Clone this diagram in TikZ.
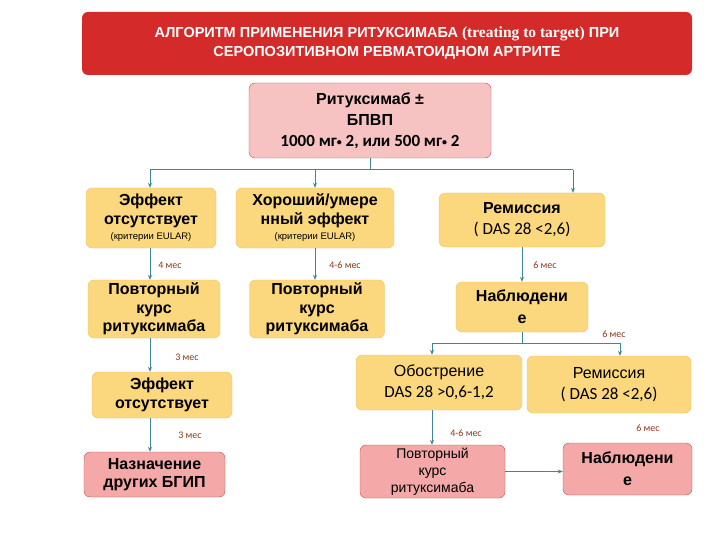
\documentclass[tikz,border=0pt]{standalone}
\usepackage{fontspec}
\setmainfont{Liberation Sans}
\newfontfamily\calfnt{Carlito}
\newfontfamily\serfnt{Liberation Serif}
\usetikzlibrary{arrows.meta}
\definecolor{yel}{HTML}{FBD77E}
\definecolor{yelb}{HTML}{E9C46A}
\definecolor{pnk}{HTML}{F4A8A8}
\definecolor{pnkb}{HTML}{C0504D}
\definecolor{ttl}{HTML}{D42A2A}
\definecolor{ln}{HTML}{3E8796}
\definecolor{lab}{HTML}{8B3A1A}
\begin{document}
\begin{tikzpicture}[x=1pt,y=-1pt,
 box/.style={rounded corners=6pt,draw=yelb,fill=yel,align=center,inner sep=1pt,font=\bfseries\fontsize{16}{18.5}\selectfont},
 rbox/.style={box,draw=pnkb,fill=pnk},
 con/.style={draw=ln,line width=1pt,-{Stealth[length=5pt,width=4pt]}},
 pl/.style={draw=ln,line width=1pt},
 lbl/.style={font=\calfnt\fontsize{10}{11}\selectfont,text=lab}]
\useasboundingbox (0,0) rectangle (720,540);
\fill[white] (0,0) rectangle (720,540);
\node[rounded corners=6pt,fill=ttl,minimum width=610pt,minimum height=63pt,align=center,text=white,font=\bfseries\fontsize{14.5}{19}\selectfont] (t) at (387,43.5) {АЛГОРИТМ ПРИМЕНЕНИЯ РИТУКСИМАБА {\serfnt\fontsize{15.5}{19}\selectfont (treating to target)} ПРИ\\СЕРОПОЗИТИВНОМ РЕВМАТОИДНОМ АРТРИТЕ};
\node[box,draw=pnkb,fill=pnk!70,minimum width=242pt,minimum height=75pt,font=\bfseries\fontsize{16}{21}\selectfont] (top) at (370,120.5) {Ритуксимаб ±\\БПВП\\{\calfnt\bfseries\fontsize{17}{21}\selectfont 1000 мг\raisebox{1pt}{\fontsize{10}{10}\selectfont•} 2, или 500 мг\raisebox{1pt}{\fontsize{10}{10}\selectfont•} 2}};
\node[box,minimum width=130pt,minimum height=60pt] (e1) at (151,218) {Эффект\\отсутствует\\[-3pt]{\mdseries\fontsize{9.5}{10}\selectfont (критерии EULAR)}};
\node[box,minimum width=158pt,minimum height=60pt] (e2) at (315,218) {Хороший/умере\\нный эффект\\[-3pt]{\mdseries\fontsize{9.5}{10}\selectfont (критерии EULAR)}};
\node[box,minimum width=166pt,minimum height=54pt,font=\bfseries\fontsize{16}{21}\selectfont] (r1) at (522,220) {Ремиссия\\{\calfnt\mdseries\fontsize{17}{21}\selectfont ( DAS 28 <2,6)}};
\node[box,minimum width=132pt,minimum height=58pt] (p1) at (154,309) {Повторный\\курс\\ритуксимаба};
\node[box,minimum width=135pt,minimum height=58pt] (p2) at (317,309) {Повторный\\курс\\ритуксимаба};
\node[box,minimum width=132pt,minimum height=50pt,font=\bfseries\fontsize{16}{22}\selectfont] (n1) at (522,307) {Наблюдени\\е};
\node[box,minimum width=140pt,minimum height=46pt] (e3) at (162,395) {Эффект\\отсутствует};
\node[rbox,minimum width=141pt,minimum height=45pt] (b) at (154.5,474.5) {Назначение\\других БГИП};
\node[box,minimum width=166pt,minimum height=55pt,font=\fontsize{16}{21}\selectfont] (o) at (439,382.5) {Обострение\\{\calfnt\fontsize{17}{21}\selectfont DAS 28 >0,6-1,2}};
\node[box,minimum width=164pt,minimum height=57pt,font=\fontsize{16}{21}\selectfont] (r2) at (609,384.5) {Ремиссия\\{\calfnt\fontsize{17}{21}\selectfont ( DAS 28 <2,6)}};
\node[rbox,minimum width=145pt,minimum height=53pt,font=\fontsize{14}{17}\selectfont] (p3) at (432.5,471.5) {Повторный\\курс\\ритуксимаба};
\node[rbox,minimum width=129pt,minimum height=52pt,font=\bfseries\fontsize{16}{22}\selectfont] (n2) at (627.5,469) {Наблюдени\\е};
% connectors
\coordinate (j) at (373,170);
\coordinate (jl) at (150,170);
\coordinate (jr) at (573,170);
\coordinate (k) at (522,343);
\coordinate (kl) at (432,343);
\coordinate (kr) at (620,343);
\draw[pl] (top.south) -- (top.south|-j);
\draw[pl] (jl) -- (jr);
\draw[con] (jl) -- (jl|-e1.north);
\draw[con] (e2.north|-j) -- (e2.north);
\draw[con] (jr) -- (jr|-r1.north);
\draw[con] (jl|-e1.south) -- (jl|-p1.north);
\draw[con] (e2.south) -- (e2.south|-p2.north);
\draw[con] (r1.south) -- (n1.north);
\draw[con] (jl|-p1.south) -- (jl|-e3.north);
\draw[con] (jl|-e3.south) -- (jl|-b.north);
\draw[pl] (n1.south) -- (k);
\draw[pl] (kl) -- (kr);
\draw[con] (kl) -- (kl|-o.north);
\draw[con] (kr) -- (kr|-r2.north);
\draw[con] (kl|-o.south) -- (kl|-p3.north);
\draw[con] (p3.east) -- (p3.east-|n2.west);
\node[lbl] (l1) at (170,265) {4 мес};
\node[lbl] (l2) at (345,265) {4-6 мес};
\node[lbl] (l3) at (545,265) {6 мес};
\node[lbl] (l4) at (614,334) {6 мес};
\node[lbl] (l5) at (187,357) {3 мес};
\node[lbl] (l6) at (190,435) {3 мес};
\node[lbl] (l7) at (466,433) {4-6 мес};
\node[lbl] (l8) at (648,428) {6 мес};
\end{tikzpicture}
\end{document}
